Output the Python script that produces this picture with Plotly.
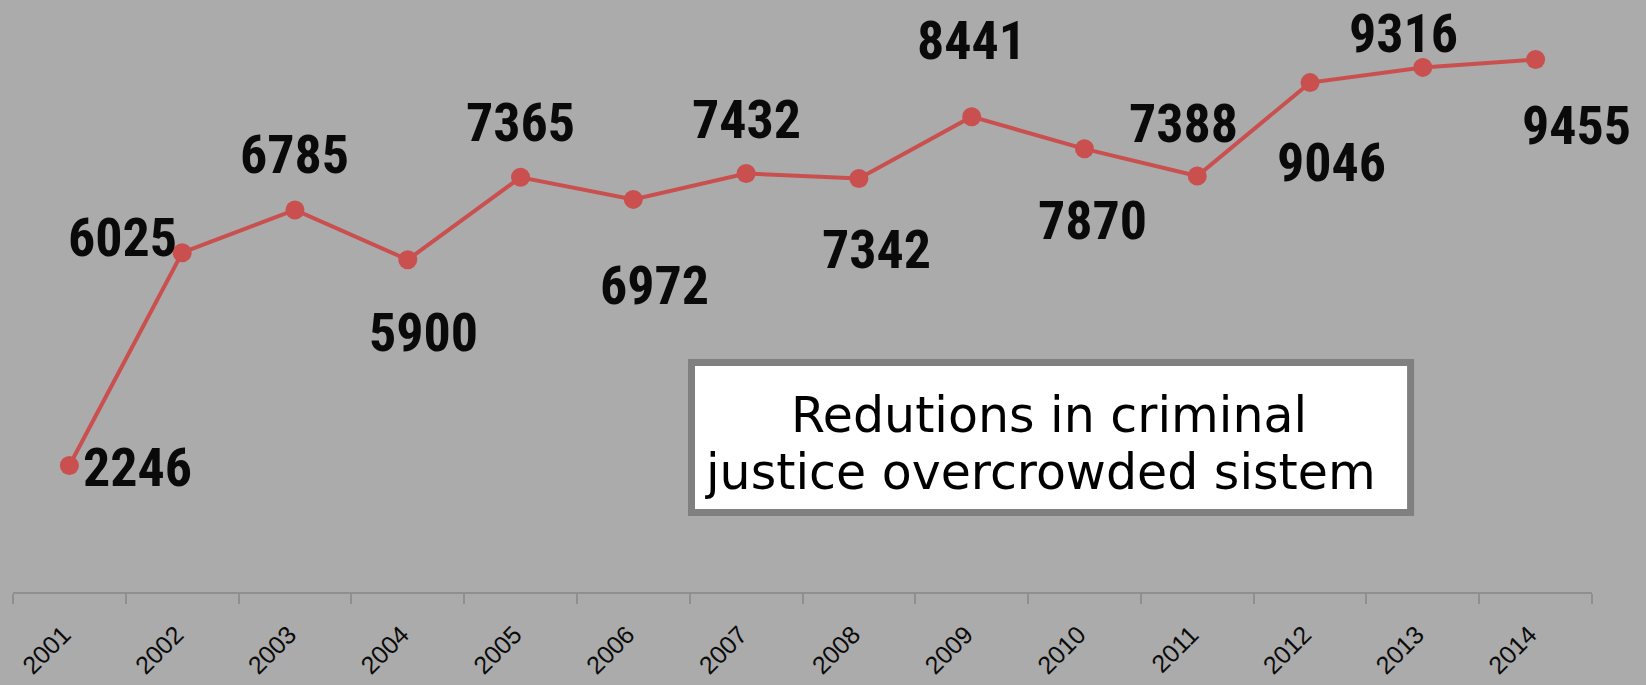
import plotly.graph_objects as go

years = ["2001", "2002", "2003", "2004", "2005", "2006", "2007",
         "2008", "2009", "2010", "2011", "2012", "2013", "2014"]
values = [2246, 6025, 6785, 5900, 7365, 6972, 7432,
          7342, 8441, 7870, 7388, 9046, 9316, 9455]
box_lines = ["Redutions in criminal", "justice overcrowded sistem"]

# label offsets (pixels) relative to each point: layout only
label_shift_x = [68, -60, 0, 16, 0, 21, 0, 18, 0, 8, -14, 21, -19, 41]
label_shift_y = [-2, 15, 55, -73, 55, -86, 54, -71, 76, -72, 52, -80, 34, -66]
box_line_y = [0.2973, 0.2027]
box_line_dx = [-2, -11]

BG = "#ababab"
RED = "#c9504e"

fig = go.Figure()
fig.add_trace(go.Scatter(
    x=years, y=values, mode="lines+markers",
    line=dict(color=RED, width=4),
    marker=dict(color=RED, size=19),
    hoverinfo="skip", showlegend=False,
))

annotations = []
for i, (v, sx, sy) in enumerate(zip(values, label_shift_x, label_shift_y)):
    annotations.append(dict(
        x=i, y=v, xref="x", yref="y", text=f"<b>{v}</b>", showarrow=False,
        xshift=sx, yshift=sy,
        font=dict(family="Noto Sans Condensed, Roboto Condensed, Liberation Sans Narrow, Liberation Sans, sans-serif",
                  size=54, color="#0a0a0a"),
    ))

for line, ly, dx in zip(box_lines, box_line_y, box_line_dx):
    annotations.append(dict(
        x=0.6574, y=ly, xref="paper", yref="paper", text=line,
        showarrow=False, xanchor="center", yanchor="middle", align="center",
        xshift=dx,
        font=dict(family="DejaVu Sans, sans-serif", size=49, color="#000000"),
    ))

fig.update_layout(
    width=1646, height=685,
    margin=dict(l=13, r=54, t=0, b=93),
    paper_bgcolor=BG, plot_bgcolor=BG,
    annotations=annotations,
    shapes=[dict(type="rect", xref="paper", yref="paper",
                 x0=0.4297, x1=0.8851, y0=0.1343, y1=0.3877,
                 fillcolor="white", line=dict(color="#808080", width=7),
                 layer="below")],
    xaxis=dict(
        type="category", range=[-0.5, 13.5],
        showgrid=False, zeroline=False,
        showline=True, linecolor="#8f8f8f", linewidth=2,
        ticks="outside", tickson="boundaries", ticklen=10,
        tickcolor="#8f8f8f", tickwidth=2,
        tickangle=-45, ticklabelstandoff=16, ticklabelshift=-6,
        tickfont=dict(family="Liberation Sans, Arial, sans-serif",
                      size=25, color="#0a0a0a"),
    ),
    yaxis=dict(range=[0, 10513], visible=False, showgrid=False,
               zeroline=False),
)

fig.write_html("out.html")
